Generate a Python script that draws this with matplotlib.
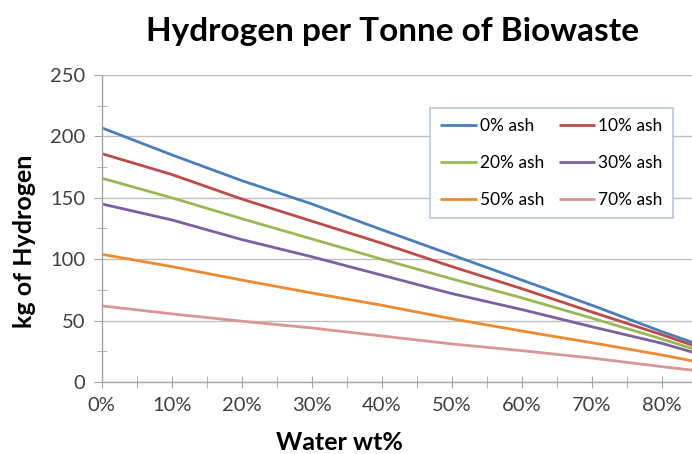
import matplotlib
matplotlib.use("Agg")
import matplotlib.pyplot as plt
from matplotlib.ticker import MultipleLocator, PercentFormatter

water = [0.0, 0.1, 0.2, 0.3, 0.4, 0.5, 0.6, 0.7, 0.8, 0.9]
series_names = ["0% ash", "10% ash", "20% ash", "30% ash", "50% ash", "70% ash"]
ash0 = [207, 185, 164, 145, 124, 103.5, 83, 62.5, 41, 21]
ash10 = [186, 169, 149, 131, 113, 94, 76, 57, 38.5, 19]
ash20 = [166, 150, 133, 116.5, 100, 84, 68.5, 52, 35, 17]
ash30 = [145, 132, 116, 102, 87, 72, 59, 45, 31.5, 15]
ash50 = [104, 94, 83, 72.5, 62.5, 51.5, 41.5, 32, 22, 11]
ash70 = [62, 55.5, 49.5, 44, 37.5, 31, 25.5, 19.5, 12.5, 6]
series = [ash0, ash10, ash20, ash30, ash50, ash70]
colors = ["#4A7EBB", "#BE4B48", "#98B954", "#7D60A0", "#F08A30", "#DA9694"]

plt.rcParams['font.family'] = ['Lato', 'DejaVu Sans']

fig = plt.figure(figsize=(6.92, 4.54), dpi=100)
ax = fig.add_axes([0.147, 0.1586, 0.853, 0.6762])

handles = []
for name, vals, c in zip(series_names, series, colors):
    h, = ax.plot(water, vals, color=c, lw=2.0, label=name, solid_capstyle='butt')
    handles.append(h)

ax.set_xlim(0, 0.843)
ax.set_ylim(0, 250)
ax.yaxis.set_major_locator(MultipleLocator(50))
ax.yaxis.set_minor_locator(MultipleLocator(25))
ax.xaxis.set_major_locator(MultipleLocator(0.1))
ax.xaxis.set_minor_locator(MultipleLocator(0.05))
ax.xaxis.set_major_formatter(PercentFormatter(1.0, decimals=0))

ax.grid(axis='y', which='major', color='#BFBFBF', lw=1.0)
ax.set_axisbelow(True)
for s in ['top', 'right']:
    ax.spines[s].set_visible(False)
for s in ['left', 'bottom']:
    ax.spines[s].set_color('#A6A6A6')
    ax.spines[s].set_linewidth(1.0)

ax.tick_params(axis='y', which='major', direction='out', length=6, color='#A6A6A6',
               labelsize=14.5, pad=6, labelcolor='#404040')
ax.tick_params(axis='y', which='minor', direction='inout', length=7, color='#A6A6A6')
ax.tick_params(axis='x', which='both', direction='inout', length=8, color='#A6A6A6',
               labelsize=14.5, pad=7, labelcolor='#404040')

ax.set_xlabel("Water wt%", fontsize=18, fontweight='bold')
ax.xaxis.set_label_coords(0.403, -0.160)
ax.set_ylabel("kg of Hydrogen", fontsize=18, fontweight='bold')
ax.yaxis.set_label_coords(-0.111, 0.459)
fig.suptitle("Hydrogen per Tonne of Biowaste", x=0.567, y=0.962, fontsize=24, fontweight='bold')

order = [0, 2, 4, 1, 3, 5]
leg = ax.legend([handles[i] for i in order], [series_names[i] for i in order],
                ncol=2, loc='upper left', bbox_to_anchor=(0.556, 0.893), fontsize=12.5,
                frameon=True, fancybox=False, shadow=False, handlelength=2.1,
                columnspacing=0.8, labelspacing=1.2, borderpad=0.6, handletextpad=0.2,
                borderaxespad=0)
leg.get_frame().set_edgecolor('#B8C7DC')
leg.get_frame().set_linewidth(1.2)
leg.get_frame().set_alpha(1.0)

fig.savefig("out.png", dpi=100)
